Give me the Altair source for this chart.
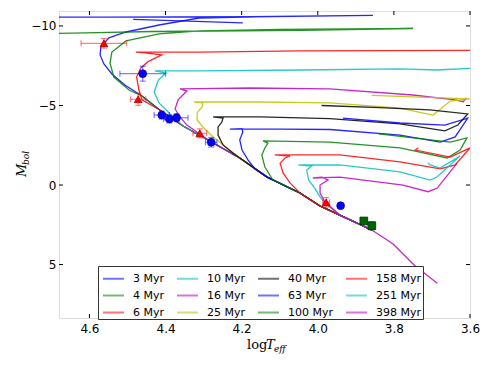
import altair as alt
import pandas as pd

# ---------------- data ----------------
ages = ["3 Myr", "4 Myr", "6 Myr", "10 Myr", "16 Myr", "25 Myr",
        "40 Myr", "63 Myr", "100 Myr", "158 Myr", "251 Myr", "398 Myr"]
age_colors = ["#0000ff", "#008000", "#ff0000", "#00bfbf", "#bf00bf", "#bfbf00",
              "#000000", "#0000ff", "#008000", "#ff0000", "#00bfbf", "#bf00bf"]

# shared main sequence (bottom to top)
ms_logT = [3.686, 3.747, 3.802, 3.858, 3.942, 3.994, 4.047, 4.133, 4.205,
           4.284, 4.354, 4.415, 4.462, 4.507, 4.541, 4.562, 4.572]
ms_M = [6.17, 5.03, 3.71, 2.83, 1.89, 1.32, 0.50, -0.50, -1.70,
        -2.77, -3.71, -4.72, -5.60, -6.29, -6.98, -7.61, -8.18]

# (first, last+1) main-sequence points used by each isochrone
ms_start = [3, 3, 3, 3, 3, 3, 3, 3, 3, 3, 3, 0]
ms_end = [17, 13, 12, 11, 10, 9, 9, 8, 7, 7, 5, 5]

# evolved parts
ev_logT = [
    [4.570, 4.549, 4.504, 4.417, 4.312, 4.099, 3.855, 4.178, 4.572, 4.704],
    [4.496, 4.536, 4.546, 4.541, 4.504, 4.417, 4.310, 4.099, 3.750, 4.047, 4.433, 4.612, 4.700],
    [4.462, 4.470, 4.476, 4.465, 4.447, 4.410, 4.449, 4.478, 4.310, 4.047, 3.600],
    [4.388, 4.417, 4.430, 4.419, 4.399, 4.428, 4.310, 4.047, 3.784, 3.687, 3.600],
    [4.344, 4.362, 4.375, 4.367, 4.344, 4.362, 4.178, 3.968, 3.750, 3.639, 3.618, 3.610],
    [4.275, 4.302, 4.317, 4.317, 4.304, 4.302, 4.325, 4.152, 3.968, 3.784, 3.713, 3.697,
     3.652, 3.600, 3.731, 3.858],
    [4.223, 4.249, 4.262, 4.262, 4.252, 4.249, 4.275, 4.152, 3.968, 3.784, 3.666, 3.632,
     3.606, 3.706, 3.837, 3.990],
    [4.165, 4.183, 4.199, 4.205, 4.197, 4.199, 4.231, 4.099, 3.968, 3.784, 3.678, 3.639,
     3.606, 3.666, 3.784, 3.934],
    [4.118, 4.139, 4.147, 4.139, 4.131, 4.144, 3.968, 3.784, 3.660, 3.626, 3.608, 3.652, 3.840],
    [4.073, 4.091, 4.099, 4.086, 4.073, 4.113, 3.942, 3.784, 3.678, 3.639, 3.600, 3.652,
     3.744, 3.736],
    [3.981, 3.994, 4.008, 4.024, 4.029, 4.016, 4.051, 3.942, 3.784, 3.705, 3.687, 3.626,
     3.679, 3.705, 3.710],
    [3.981, 3.994, 3.994, 3.973, 3.989, 4.013, 3.942, 3.776, 3.710, 3.686, 3.634],
]
ev_M = [
    [-8.68, -9.25, -9.62, -10.06, -10.50, -10.60, -10.66, -10.58, -10.55, -10.55],
    [-5.97, -6.79, -7.67, -8.36, -9.06, -9.50, -9.69, -9.78, -9.84, -9.72, -9.65, -9.56, -9.53],
    [-5.35, -5.97, -6.79, -7.36, -7.74, -8.18, -8.30, -8.36, -8.36, -8.43, -8.46],
    [-4.47, -5.16, -5.85, -6.60, -7.04, -7.17, -7.17, -7.23, -7.30, -7.23, -7.33],
    [-3.77, -4.28, -4.78, -5.35, -5.91, -6.04, -6.10, -6.04, -5.66, -5.35, -5.24, -5.47],
    [-3.02, -3.65, -4.09, -4.53, -4.92, -5.16, -5.22, -5.22, -5.16, -4.84, -4.47, -4.40,
     -5.28, -5.41, -5.53, -5.63],
    [-2.01, -2.52, -3.14, -3.65, -3.96, -4.21, -4.28, -4.28, -4.18, -3.84, -3.40, -3.77,
     -4.47, -4.72, -4.87, -5.00],
    [-1.01, -1.57, -2.20, -2.83, -3.33, -3.55, -3.52, -3.52, -3.49, -3.14, -2.70, -3.02,
     -4.21, -3.77, -3.90, -4.20],
    [-0.31, -1.13, -1.89, -2.33, -2.64, -2.77, -2.70, -2.33, -1.70, -2.20, -2.96, -2.70, -3.21],
    [-0.13, -0.75, -1.38, -1.70, -1.82, -1.89, -1.89, -1.45, -1.01, -1.26, -2.33, -1.76,
     -2.20, -2.33],
    [1.13, 0.75, 0.19, -0.31, -0.94, -1.19, -1.26, -1.26, -0.82, -0.31, -0.50, -1.82,
     -1.07, -1.26, -1.38],
    [1.07, 0.50, 0.00, -0.31, -0.50, -0.44, -0.50, 0.00, 0.42, 0.19, -1.38],
]
# extra detached piece of the 3 Myr isochrone
extra_age = "3 Myr"
extra_logT = [4.485, 4.197]
extra_M = [-10.41, -10.19]

# observed stars
tri_logT = [4.562, 4.472, 4.310, 3.978]
tri_M = [-8.91, -5.39, -3.25, 1.09]
tri_xerr = [0.06, 0.02, 0.018, 0.009]
tri_yerr = [0.30, 0.38, 0.28, 0.30]

circ_logT = [4.460, 4.410, 4.390, 4.371, 4.280, 3.940]
circ_M = [-7.00, -4.40, -4.15, -4.23, -2.69, 1.30]
circ_xerr = [0.06, 0.02, 0.015, 0.03, 0.015, 0.0]
circ_yerr = [0.47, 0.25, 0.25, 0.25, 0.30, 0.0]

sq_logT = [3.879, 3.858]
sq_M = [2.26, 2.56]
sq_xerr = [0.0, 0.0]
sq_yerr = [0.0, 0.26]

x_ticks = [4.6, 4.4, 4.2, 4.0, 3.8, 3.6]
y_ticks = [-10, -5, 0, 5]
x_domain = [3.6, 4.68]
y_domain = [-10.94, 8.36]

# ---------------- build tables ----------------
rows = []
for k, age in enumerate(ages):
    T = ms_logT[ms_start[k]:ms_end[k]] + ev_logT[k]
    M = ms_M[ms_start[k]:ms_end[k]] + ev_M[k]
    for i, (t, m) in enumerate(zip(T, M)):
        rows.append({"age": age, "seg": f"{age}-a", "order": i, "logT": t, "M": m})
for i, (t, m) in enumerate(zip(extra_logT, extra_M)):
    rows.append({"age": extra_age, "seg": f"{extra_age}-b", "order": i, "logT": t, "M": m})
iso = pd.DataFrame(rows)

W, H = 411, 307
xs = alt.Scale(domain=x_domain, reverse=True, nice=False, zero=False)
ys = alt.Scale(domain=y_domain, reverse=True, nice=False, zero=False)

x_axis = alt.Axis(values=x_ticks, format=".1f", ticks=False, domain=False, grid=False,
                  labelFontSize=12, labelFont="DejaVu Sans", labelPadding=5,
                  labelFlush=False, labelOverlap=False, title=None, labelColor="black")
y_axis = alt.Axis(values=y_ticks, format="d", ticks=False, domain=False, grid=False,
                  labelFontSize=12, labelFont="DejaVu Sans", labelPadding=3,
                  labelFlush=False, labelOverlap=False, title=None, labelColor="black")

lines = alt.Chart(iso).mark_line(strokeWidth=1.3, opacity=0.85, clip=True).encode(
    x=alt.X("logT:Q", scale=xs, axis=x_axis),
    y=alt.Y("M:Q", scale=ys, axis=y_axis),
    color=alt.Color("age:N", scale=alt.Scale(domain=ages, range=age_colors),
                    legend=alt.Legend(orient="none", legendX=39, legendY=255, columns=4,
                                      title=None, symbolType="stroke", symbolSize=441,
                                      symbolStrokeWidth=2, symbolOpacity=0.55,
                                      symbolOffset=3,
                                      labelFont="DejaVu Sans", labelFontSize=11,
                                      labelOffset=8, labelColor="black",
                                      strokeColor="#333333", fillColor="white",
                                      padding=1, rowPadding=-3.3, columnPadding=8)),
    detail="seg:N",
    order="order:Q",
)


def star_layers(Ts, Ms, xe, ye, color, edge, shape, size):
    df = pd.DataFrame({"logT": Ts, "M": Ms, "xe": xe, "ye": ye})
    df["xlo"] = df.logT - df.xe
    df["xhi"] = df.logT + df.xe
    df["ylo"] = df.M - df.ye
    df["yhi"] = df.M + df.ye
    dx = df[df.xe > 0]
    dy = df[df.ye > 0]
    layers = []
    if len(dx):
        b = alt.Chart(dx)
        layers.append(b.mark_rule(color=color, opacity=0.5, strokeWidth=1.2).encode(
            x=alt.X("xlo:Q", scale=xs), x2="xhi:Q", y=alt.Y("M:Q", scale=ys)))
        for f in ["xlo", "xhi"]:
            layers.append(b.mark_tick(color=color, opacity=0.5, orient="vertical",
                                      size=6, thickness=1.2).encode(
                x=alt.X(f"{f}:Q", scale=xs), y=alt.Y("M:Q", scale=ys)))
    if len(dy):
        b = alt.Chart(dy)
        layers.append(b.mark_rule(color=color, opacity=0.5, strokeWidth=1.2).encode(
            x=alt.X("logT:Q", scale=xs), y=alt.Y("ylo:Q", scale=ys), y2="yhi:Q"))
        for f in ["ylo", "yhi"]:
            layers.append(b.mark_tick(color=color, opacity=0.5, orient="horizontal",
                                      size=6, thickness=1.2).encode(
                x=alt.X("logT:Q", scale=xs), y=alt.Y(f"{f}:Q", scale=ys)))
    layers.append(alt.Chart(df).mark_point(shape=shape, filled=True, size=size, fill=color,
                                            stroke=edge, strokeWidth=0.8, opacity=1).encode(
        x=alt.X("logT:Q", scale=xs), y=alt.Y("M:Q", scale=ys)))
    return layers


stars = []
stars += star_layers(tri_logT, tri_M, tri_xerr, tri_yerr, "#ff0000", "#aa0000", "triangle-up", 60)
stars += star_layers(circ_logT, circ_M, circ_xerr, circ_yerr, "#0000ff", "#0000aa", "circle", 60)
stars += star_layers(sq_logT, sq_M, sq_xerr, sq_yerr, "#006400", "#003000", "square", 60)

# inward ticks on all four sides
xt = pd.DataFrame({"t": x_ticks})
yt = pd.DataFrame({"m": y_ticks})
tick_layers = [
    alt.Chart(xt).mark_rule(color="black").encode(
        x=alt.X("t:Q", scale=xs), y=alt.value(H), y2=alt.value(H - 4)),
    alt.Chart(xt).mark_rule(color="black").encode(
        x=alt.X("t:Q", scale=xs), y=alt.value(0), y2=alt.value(4)),
    alt.Chart(yt).mark_rule(color="black").encode(
        y=alt.Y("m:Q", scale=ys), x=alt.value(0), x2=alt.value(4)),
    alt.Chart(yt).mark_rule(color="black").encode(
        y=alt.Y("m:Q", scale=ys), x=alt.value(W), x2=alt.value(W - 4)),
]

# axis titles in mathtext style
one = pd.DataFrame({"a": [0]})
serif = "DejaVu Serif"
titles = [
    alt.Chart(one).mark_text(text="log", font=serif, fontSize=13, align="left",
                             baseline="alphabetic").encode(
        x=alt.value(188), y=alt.value(H + 31)),
    alt.Chart(one).mark_text(text="T", font=serif, fontSize=13, fontStyle="italic",
                             align="left", baseline="alphabetic").encode(
        x=alt.value(207), y=alt.value(H + 31)),
    alt.Chart(one).mark_text(text="eff", font=serif, fontSize=9, fontStyle="italic",
                             align="left", baseline="alphabetic").encode(
        x=alt.value(215), y=alt.value(H + 34)),
    alt.Chart(one).mark_text(text="M", font=serif, fontSize=13, fontStyle="italic",
                             align="left", baseline="alphabetic", angle=270).encode(
        x=alt.value(-33), y=alt.value(166)),
    alt.Chart(one).mark_text(text="bol", font=serif, fontSize=9, fontStyle="italic",
                             align="left", baseline="alphabetic", angle=270).encode(
        x=alt.value(-30), y=alt.value(154)),
]

chart = alt.layer(lines, *stars, *tick_layers, *titles).properties(
    width=W, height=H,
    autosize=alt.AutoSizeParams(type="none"),
    padding={"left": 51, "top": 3, "right": 13, "bottom": 42},
).configure_view(stroke="black", strokeWidth=1.3).configure(background="white")

chart.save("out.html", embed_options={"renderer": "svg", "actions": False})
